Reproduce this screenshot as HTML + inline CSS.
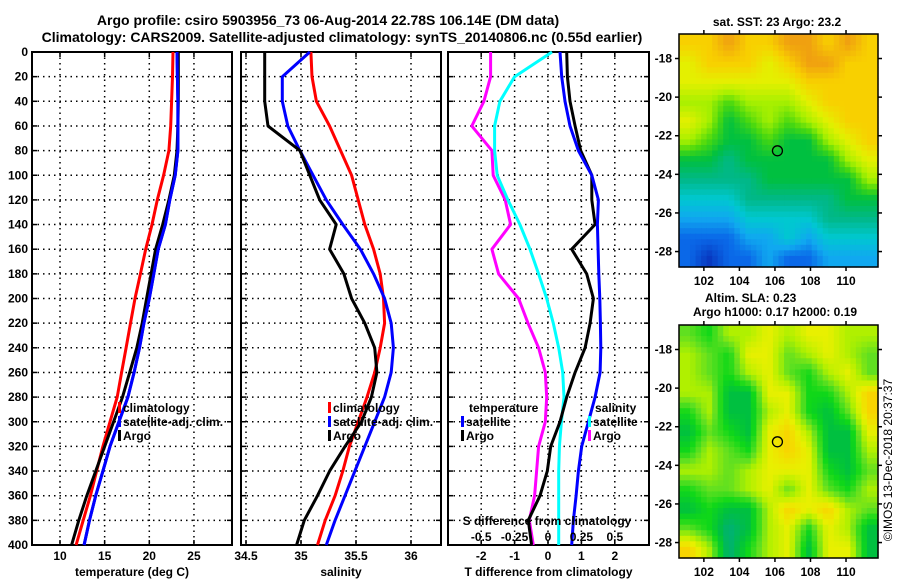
<!DOCTYPE html>
<html><head><meta charset="utf-8"><style>
body{margin:0;background:#fff;}
svg{display:block;font-family:"Liberation Sans",sans-serif;font-weight:bold;}
</style></head><body>
<svg id="c" width="900" height="580" viewBox="0 0 900 580"></svg>
<script>
// ---- data ----
const depths=[0,20,40,60,80,100,120,140,160,180,200,220,240,260,280,300,320,340,360,380,400];
const tempClim=[22.65,22.6,22.5,22.4,22.2,21.6,20.9,20.3,19.6,19.0,18.4,17.9,17.4,16.9,16.4,15.6,14.8,14.1,13.4,12.6,11.8];
const tempSat=[23.1,23.15,23.2,23.2,23.2,22.9,22.3,21.8,21.0,20.5,20.0,19.4,18.9,18.3,17.6,16.6,15.6,14.8,14.0,13.3,12.7];
const tempArgo=[23.25,23.25,23.25,23.2,23.1,22.8,22.2,21.5,20.7,20.2,19.7,19.2,18.6,17.8,17.0,16.0,15.0,14.0,13.0,12.1,11.3];
const salClim=[35.09,35.10,35.14,35.26,35.36,35.46,35.52,35.58,35.66,35.72,35.75,35.76,35.72,35.67,35.60,35.52,35.44,35.38,35.31,35.22,35.15];
const salSat=[35.08,34.83,34.83,34.88,34.99,35.11,35.23,35.38,35.54,35.66,35.76,35.82,35.84,35.82,35.76,35.67,35.58,35.49,35.40,35.31,35.23];
const salArgo=[34.67,34.67,34.67,34.70,34.99,35.08,35.17,35.32,35.26,35.39,35.46,35.58,35.67,35.69,35.64,35.55,35.40,35.26,35.15,35.03,34.96];
const sDiffArgo=[-0.43,-0.43,-0.48,-0.57,-0.42,-0.41,-0.32,-0.28,-0.42,-0.37,-0.22,-0.15,-0.07,-0.02,-0.01,-0.02,-0.07,-0.085,-0.1,-0.14,-0.11];
const sDiffSat=[0.03,-0.25,-0.36,-0.40,-0.40,-0.38,-0.30,-0.21,-0.135,-0.07,-0.01,0.04,0.08,0.11,0.12,0.10,0.085,0.08,0.08,0.08,0.08];
const tDiffSat=[0.36,0.41,0.51,0.66,0.91,1.31,1.51,1.48,1.50,1.52,1.55,1.57,1.58,1.56,1.41,1.21,1.01,0.91,0.84,0.76,0.71];
const tDiffArgo=[0.56,0.58,0.66,0.81,0.98,1.31,1.31,1.41,0.71,1.16,1.36,1.26,1.11,0.81,0.56,0.36,0.08,-0.02,-0.24,-0.59,-0.49];
const depthTicks=[0,20,40,60,80,100,120,140,160,180,200,220,240,260,280,300,320,340,360,380,400];
const tempTicks=[10,15,20,25];
const salTicks=[34.5,35,35.5,36];
const tdTicks=[-2,-1,0,1,2];
const sdTicks=[-0.5,-0.25,0,0.25,0.5];
const sdTickLabels=["-0.5","-0.25","0","0.25","0.5"];
const latTicks=[-18,-20,-22,-24,-26,-28];
const lonTicks=[102,104,106,108,110];
const argoLon=106.14, argoLat=-22.78;
const sstGrid=[
[9,9,10,9,9,10,10,9,10,9],
[8,9,9,9,8,9,10,10,9,9],
[8,8,8,8,8,8,9,9,9,9],
[7,7,6,7,7,7,8,9,9,9],
[8,7,5,6,7,6,7,8,9,9],
[7,6,5,5,6,5,5,7,8,9],
[5,5,4,5,5,5,5,5,7,8],
[4,4,4,4,5,5,5,5,5,7],
[3,3,3,4,4,4,4,4,5,5],
[2,2,2,3,3,3,3,4,4,4],
[1,1,1,2,2,3,2,3,3,3],
[1,0,1,1,2,1,1,2,2,2]];
const slaGrid=[
[3,2,4,4,5,4,5,5,4,4],
[4,3,2,5,5,3,4,5,4,3],
[4,3,2,4,5,3,2,4,5,3],
[4,4,1,1,5,5,2,2,4,6],
[2,4,1,1,4,5,2,1,3,6],
[1,3,2,1,5,6,4,1,1,5],
[2,4,3,2,5,6,5,1,1,4],
[4,4,3,4,5,5,5,2,1,3],
[2,3,3,4,5,3,5,3,2,4],
[1,2,1,1,4,6,5,6,4,3],
[3,2,0,1,4,5,2,5,4,1],
[6,4,0,2,4,5,1,5,5,1]];
const sstColors=[[8,56,192],[10,104,232],[16,168,240],[0,200,208],[0,184,136],[0,192,64],[72,216,16],[168,240,0],[228,240,0],[248,208,0],[240,160,16]];
const slaColors=[[0,176,120],[0,192,64],[16,216,24],[96,224,32],[176,240,0],[232,240,0],[248,212,0],[240,176,0]];

// ---- helpers ----
const svg=document.getElementById('c');
const NS='http://www.w3.org/2000/svg';
function mk(tag,attrs,parent){const e=document.createElementNS(NS,tag);for(const k in attrs)e.setAttribute(k,attrs[k]);(parent||svg).appendChild(e);return e;}
function txt(x,y,s,anchor,size,parent){const t=mk('text',{x:x,y:y,'text-anchor':anchor||'middle','font-size':size||12},parent);t.textContent=s;return t;}
const Y0=52,Y1=545;
function yD(d){return Y0+(d/400)*(Y1-Y0);}

function panel(name,x0,x1,xf,ticks,tickLabels,xtitle,showY){
  const g=mk('g',{});
  
  
  depthTicks.forEach(d=>{ if(d>0&&d<400) mk('line',{x1:x0,x2:x1,y1:yD(d),y2:yD(d),stroke:'#000','stroke-width':1.5,'stroke-dasharray':'1.5,4'},g);
    mk('line',{x1:x0,x2:x0+5,y1:yD(d),y2:yD(d),stroke:'#000','stroke-width':1.5},g);
    mk('line',{x1:x1-5,x2:x1,y1:yD(d),y2:yD(d),stroke:'#000','stroke-width':1.5},g);
    if(showY){const t=txt(x0-4,yD(d)+4,String(d),'end',12,g);}
  });
  ticks.forEach((v,i)=>{const x=xf(v);
    mk('line',{x1:x,x2:x,y1:Y0,y2:Y1,stroke:'#000','stroke-width':1.5,'stroke-dasharray':'1.5,4'},g);
    mk('line',{x1:x,x2:x,y1:Y0,y2:Y0+5,stroke:'#000','stroke-width':1.5},g);
    mk('line',{x1:x,x2:x,y1:Y1-5,y2:Y1,stroke:'#000','stroke-width':1.5},g);
    const t=txt(x,560,tickLabels[i],'middle',12,g);
    
    
  });
  mk('rect',{x:x0,y:Y0,width:x1-x0,height:Y1-Y0,fill:'none',stroke:'#000','stroke-width':2},g);
  const tt=txt((x0+x1)/2,576,xtitle,'middle',12,g);
  
  
  return g;
}
function line(vals,xf,color,name){
  const pts=vals.map((v,i)=>xf(v).toFixed(1)+','+yD(depths[i]).toFixed(1)).join(' ');
  const p=mk('polyline',{points:pts,fill:'none',stroke:color,'stroke-width':3,'stroke-linejoin':'round'});
  
  
}
function legendItem(x,y,color,label,name){
  const g=mk('g',{});
  
  
  if(color) mk('rect',{x:x,y:y-10,width:3,height:11,fill:color},g);
  txt(x+(color?5:0),y,label,'start',12,g);
}

// ---- titles ----
let t=txt(328,25,'Argo profile: csiro 5903956_73 06-Aug-2014 22.78S 106.14E (DM data)','middle',14);


t=txt(342,42,'Climatology: CARS2009. Satellite-adjusted climatology: synTS_20140806.nc (0.55d earlier)','middle',14);



// ---- panel 1 temperature ----
const xT=v=>60+(v-10)*8.93;
panel('temperature-panel',32,232,xT,tempTicks,tempTicks.map(String),'temperature (deg C)',true);
line(tempClim,xT,'#ff0000','temp-climatology-line');
line(tempSat,xT,'#0000ff','temp-satellite-line');
line(tempArgo,xT,'#000000','temp-argo-line');
line(tempSat,xT,'#0000ff','temp-satellite-line-top');
legendItem(118,412,'#ff0000','climatology','legend-climatology');
legendItem(118,426,'#0000ff','satellite-adj. clim.','legend-satellite-adj');
legendItem(118,440,'#000000','Argo','legend-argo');

// ---- panel 2 salinity ----
const xS=v=>246+(v-34.5)*110;
panel('salinity-panel',241,441,xS,salTicks,salTicks.map(String),'salinity',false);
line(salClim,xS,'#ff0000','sal-climatology-line');
line(salSat,xS,'#0000ff','sal-satellite-line');
line(salArgo,xS,'#000000','sal-argo-line');
legendItem(328,412,'#ff0000','climatology','legend-climatology-2');
legendItem(328,426,'#0000ff','satellite-adj. clim.','legend-satellite-adj-2');
legendItem(328,440,'#000000','Argo','legend-argo-2');

// ---- panel 3 differences ----
const xTD=v=>548+v*33.4;
const xSD=v=>548+v*133.6;
panel('difference-panel',448,649,xTD,tdTicks,tdTicks.map(String),'T difference from climatology',false);
line(sDiffArgo,xSD,'#ff00ff','s-diff-argo-line');
line(sDiffSat,xSD,'#00ffff','s-diff-satellite-line');
line(tDiffArgo,xTD,'#000000','t-diff-argo-line');
line(tDiffSat,xTD,'#0000ff','t-diff-satellite-line');
legendItem(469,412,null,'temperature','legend-temperature-header');
legendItem(461,426,'#0000ff','satellite','legend-t-satellite');
legendItem(461,440,'#000000','Argo','legend-t-argo');
legendItem(595,412,null,'salinity','legend-salinity-header');
legendItem(588,426,'#00ffff','satellite','legend-s-satellite');
legendItem(588,440,'#ff00ff','Argo','legend-s-argo');
t=txt(547,525,'S difference from climatology','middle',12);


sdTicks.forEach((v,i)=>{const s=txt(xSD(v),541,sdTickLabels[i],'middle',12);
  
  });

// ---- maps ----
const MX0=679,MX1=878,LON0=100.6,LON1=111.8,LAT0=-16.73,LAT1=-28.8;
function sample(grid,fx,fy){
  const rows=grid.length,cols=grid[0].length;
  const gx=Math.min(Math.max(fx*cols-0.5,0),cols-1), gy=Math.min(Math.max(fy*rows-0.5,0),rows-1);
  const i0=Math.floor(gy),j0=Math.floor(gx),i1=Math.min(i0+1,rows-1),j1=Math.min(j0+1,cols-1);
  const ty=gy-i0,tx=gx-j0;
  return (grid[i0][j0]*(1-tx)+grid[i0][j1]*tx)*(1-ty)+(grid[i1][j0]*(1-tx)+grid[i1][j1]*tx)*ty;
}
function colorOf(colors,v){
  const k=Math.min(Math.floor(v),colors.length-2),f=v-k;
  const a=colors[k],b=colors[k+1];
  return 'rgb('+[0,1,2].map(q=>Math.round(a[q]*(1-f)+b[q]*f)).join(',')+')';
}
function mapPanel(name,top,grid,colors){
  const h=233;
  const g=mk('g',{});
  
  
  const NC=36,NR=42;
  const cw=(MX1-MX0)/NC,ch=h/NR;
  for(let i=0;i<NR;i++)for(let j=0;j<NC;j++){
    const v=sample(grid,(j+0.5)/NC,(i+0.5)/NR);
    const c=mk('rect',{x:(MX0+j*cw).toFixed(2),y:(top+i*ch).toFixed(2),width:(cw+0.6).toFixed(2),height:(ch+0.6).toFixed(2),fill:colorOf(colors,v)},g);
    
    
  }
  const lonX=v=>MX0+(v-LON0)/(LON1-LON0)*(MX1-MX0);
  const latY=v=>top+(LAT0-v)/(LAT0-LAT1)*h;
  mk('rect',{x:MX0,y:top,width:MX1-MX0,height:h,fill:'none',stroke:'#000','stroke-width':1.5},g);
  latTicks.forEach(v=>{const y=latY(v);
    mk('line',{x1:MX0-4,x2:MX0,y1:y,y2:y,stroke:'#000','stroke-width':1.5},g);
    mk('line',{x1:MX1,x2:MX1+4,y1:y,y2:y,stroke:'#000','stroke-width':1.5},g);
    txt(MX0-7,y+4,String(v),'end',12,g);});
  lonTicks.forEach(v=>{const x=lonX(v);
    mk('line',{x1:x,x2:x,y1:top+h,y2:top+h+4,stroke:'#000','stroke-width':1.5},g);
    mk('line',{x1:x,x2:x,y1:top-4,y2:top,stroke:'#000','stroke-width':1.5},g);
    txt(x,top+h+18,String(v),'middle',12,g);});
  const m=mk('circle',{cx:lonX(argoLon),cy:latY(argoLat),r:5,fill:'none',stroke:'#000','stroke-width':1.3},g);
  
  
}
mapPanel('sst-map',34,sstGrid,sstColors);
mapPanel('sla-map',325,slaGrid,slaColors);
t=txt(777,26,'sat. SST: 23 Argo: 23.2','middle',12);


t=txt(705,302,'Altim. SLA: 0.23','start',12);


t=txt(775,316,'Argo h1000: 0.17 h2000: 0.19','middle',12);


t=mk('text',{x:0,y:0,'text-anchor':'middle','font-size':12,'font-weight':'normal',transform:'translate(892,460) rotate(-90)'});
t.textContent='©IMOS 13-Dec-2018 20:37:37';


</script>
</body></html>
